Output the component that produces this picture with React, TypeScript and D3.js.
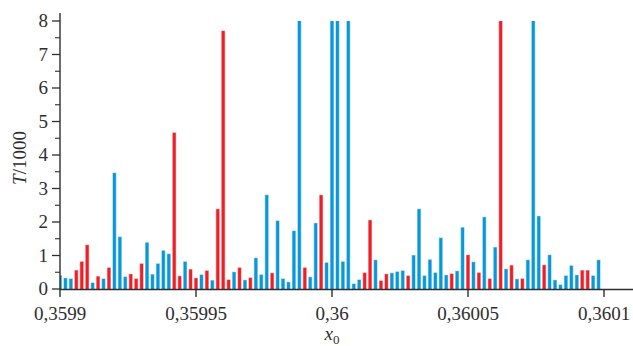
import React from "react";
import * as d3 from "d3";

const X_START = 0.3599;
const X_STEP = 0.000002;
const values = [
  0.40, 0.32, 0.30, 0.55, 0.81, 1.31, 0.18, 0.37, 0.30, 0.63,
  3.46, 1.55, 0.36, 0.44, 0.30, 0.75, 1.38, 0.43, 0.75, 1.14,
  1.04, 4.66, 0.38, 0.81, 0.58, 0.32, 0.42, 0.54, 0.25, 2.38,
  7.70, 0.27, 0.50, 0.63, 0.26, 0.33, 0.92, 0.42, 2.80, 0.47,
  2.03, 0.30, 0.20, 1.73, 9.0, 0.63, 0.35, 1.96, 2.80, 0.78,
  9.0, 9.0, 0.81, 9.0, 0.15, 0.27, 0.48, 2.05, 0.86, 0.24,
  0.44, 0.47, 0.51, 0.54, 0.39, 1.00, 2.38, 0.39, 0.87, 0.48,
  1.52, 0.41, 0.45, 0.53, 1.83, 1.01, 0.80, 0.48, 2.14, 0.30,
  1.24, 9.0, 0.59, 0.70, 0.29, 0.30, 0.86, 9.0, 2.17, 0.71,
  1.01, 0.26, 0.12, 0.39, 0.69, 0.41, 0.55, 0.55, 0.39, 0.86,
];
const kinds = "bbbrrrbrbrbbbrrrbbbbbrrbrrbrbrrrbrbrbbbrbbbbbrbbrbbbbbbbrrbrrbbbrbbbbbbbrbbrbrbrbrbrbrbbbrbbbbbbrrbb".split("");
const xTicks = [0.3599, 0.35995, 0.36, 0.36005, 0.3601];
const xTickLabels = ["0,3599", "0,35995", "0,36", "0,36005", "0,3601"];
const yTicks = [0, 1, 2, 3, 4, 5, 6, 7, 8];
const yMinor = [0.5, 1.5, 2.5, 3.5, 4.5, 5.5, 6.5, 7.5];

const BLUE = "#0897d8";
const RED = "#ee2027";
const AXIS = "#2e2e2e";
const FONT = "'Liberation Serif', 'DejaVu Serif', serif";

export default function App() {
  const W = 633, H = 346;
  const x = d3.scaleLinear().domain([0.3599, 0.3601]).range([60, 604]);
  const y = d3.scaleLinear().domain([0, 8]).range([289, 21]);
  const barW = 4;
  const yMax = 8;
  const data = values.map((v, i) => ({ x0: X_START + i * X_STEP, v, k: kinds[i] }));
  return (
    <svg width={W} height={H} style={{ position: "absolute", left: 0, top: 0, background: "#fff" }}>
      <defs>
        <clipPath id="plot">
          <rect x={60} y={y(yMax)} width={W - 60} height={289 - y(yMax)} />
        </clipPath>
      </defs>
      <g clipPath="url(#plot)">
        {data.map((d, i) => {
          const c = x(d.x0);
          const top = y(Math.min(d.v, yMax));
          const col = d.k === "r" ? RED : BLUE;
          return (
            <g key={i}>
              <rect x={c - barW / 2} y={top - 0.5} width={barW} height={289 - top + 0.5} fill={col} opacity={0.45} />
              <rect x={c - barW / 2 + 0.6} y={top} width={barW - 1.2} height={289 - top} fill={col} />
            </g>
          );
        })}
      </g>
      {/* x axis */}
      <line x1={60} x2={W} y1={289.5} y2={289.5} stroke={AXIS} strokeWidth={1.4} />
      {xTicks.map((t, i) => (
        <g key={i}>
          <line x1={x(t)} x2={x(t)} y1={289} y2={297} stroke={AXIS} strokeWidth={1.4} />
          <text x={x(t)} y={320} textAnchor="middle" fontFamily={FONT} fontSize={19} fill={AXIS}>
            {xTickLabels[i]}
          </text>
        </g>
      ))}
      {/* y axis */}
      <line x1={60} x2={60} y1={13} y2={290} stroke={AXIS} strokeWidth={1.4} />
      {yTicks.map((t) => (
        <g key={t}>
          <line x1={52} x2={60} y1={y(t)} y2={y(t)} stroke={AXIS} strokeWidth={1.3} />
          <text x={48} y={y(t) + 6} textAnchor="end" fontFamily={FONT} fontSize={19} fill={AXIS}>
            {t}
          </text>
        </g>
      ))}
      {yMinor.map((t) => (
        <line key={t} x1={55} x2={60} y1={y(t)} y2={y(t)} stroke={AXIS} strokeWidth={1.1} />
      ))}
      {/* axis titles */}
      <text
        transform={`translate(26, 158) rotate(-90)`}
        textAnchor="middle"
        fontFamily={FONT}
        fontSize={19}
        fill={AXIS}
      >
        <tspan fontStyle="italic">T</tspan>
        <tspan>/1000</tspan>
      </text>
      <text x={332} y={340} textAnchor="middle" fontFamily={FONT} fontSize={19} fill={AXIS}>
        <tspan fontStyle="italic">x</tspan>
        <tspan fontSize={13} dy={4}>0</tspan>
      </text>
    </svg>
  );
}
